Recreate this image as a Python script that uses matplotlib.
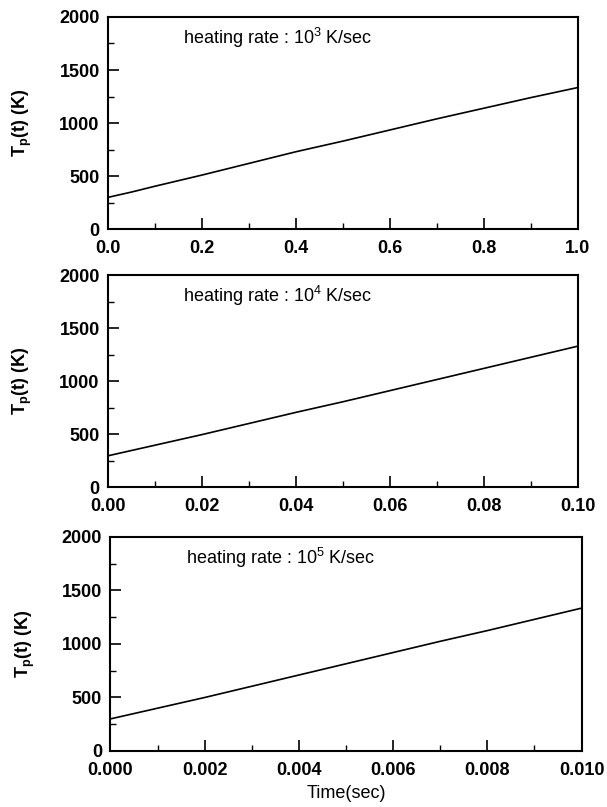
import matplotlib
matplotlib.use("Agg")
import matplotlib.pyplot as plt
from matplotlib.ticker import MultipleLocator

plt.rcParams['font.family'] = ['Liberation Sans', 'DejaVu Sans']

# normalized time fraction of each panel's range
frac = [0.0, 0.05, 0.1, 0.2, 0.3, 0.4, 0.5, 0.6, 0.7, 0.8, 0.9, 1.0]
temp1 = [300, 350, 405, 510, 620, 730, 830, 935, 1040, 1140, 1240, 1335]
temp2 = [295, 345, 395, 495, 600, 705, 805, 910, 1015, 1120, 1225, 1330]
temp3 = [300, 350, 400, 500, 605, 710, 815, 920, 1025, 1125, 1230, 1335]
tmax = [1.0, 0.1, 0.01]
xfmt = ["%.1f", "%.2f", "%.3f"]
rates = ["3", "4", "5"]
temps = [temp1, temp2, temp3]

fig = plt.figure(figsize=(6.07, 8.07), dpi=100)
rects = [
    [0.178, 0.716, 0.774, 0.263],
    [0.178, 0.3965, 0.774, 0.2625],
    [0.182, 0.0694, 0.776, 0.2652],
]

for i in range(3):
    ax = fig.add_axes(rects[i])
    t = [f * tmax[i] for f in frac]
    ax.plot(t, temps[i], color='black', lw=1.2)
    ax.set_xlim(0, tmax[i])
    ax.set_ylim(0, 2000)
    ax.xaxis.set_major_locator(MultipleLocator(tmax[i] / 5))
    ax.xaxis.set_minor_locator(MultipleLocator(tmax[i] / 10))
    ax.yaxis.set_major_locator(MultipleLocator(500))
    ax.yaxis.set_minor_locator(MultipleLocator(250))
    ax.xaxis.set_major_formatter(matplotlib.ticker.FormatStrFormatter(xfmt[i]))
    ax.tick_params(which='major', direction='in', length=8, width=1.2,
                   labelsize=13)
    ax.tick_params(axis='x', which='major', pad=8)
    ax.tick_params(axis='y', which='major', pad=6)
    ax.tick_params(which='minor', direction='in', length=4, width=1.0)
    for lab in ax.get_xticklabels() + ax.get_yticklabels():
        lab.set_fontweight('bold')
    for s in ax.spines.values():
        s.set_linewidth(1.5)
    ax.set_ylabel(r"T$_\mathregular{p}$(t) (K)", fontsize=13, fontweight='bold', labelpad=18)
    ax.text(0.16, 0.9, "heating rate : 10$^\\mathregular{%s}$ K/sec" % rates[i],
            transform=ax.transAxes, fontsize=13, ha='left', va='center')
    if i == 2:
        ax.set_xlabel("Time(sec)", fontsize=13, labelpad=4)

fig.savefig("out.png", dpi=100)
